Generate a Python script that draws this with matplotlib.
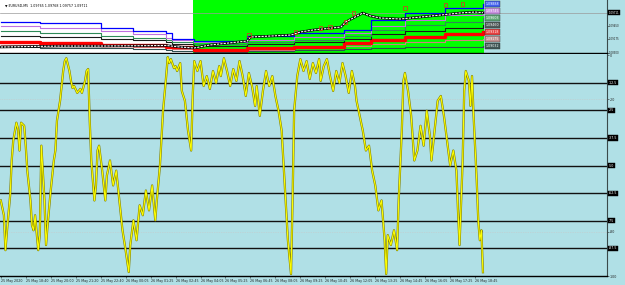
import matplotlib.pyplot as plt

# ---------------- data ----------------
# Williams %R(24) on M5 bars (bar index from left edge of chart)
wpr_bar = [0, 2, 3, 4, 6, 7, 8, 10, 11, 12,
           13, 15, 16, 17, 19, 20, 21, 22, 24, 25,
           26, 28, 29, 30, 32, 34, 35, 36, 38, 39,
           40, 41, 42, 44, 45, 46, 47, 49, 50, 51,
           52, 54, 55, 56, 57, 58, 60, 61, 62, 63,
           65, 67, 68, 70, 72, 74, 76, 78, 80, 82,
           83, 85, 87, 89, 91, 93, 95, 97, 99, 100,
           102, 104, 106, 107, 108, 109, 111, 112, 113, 115,
           116, 118, 120, 122, 123, 124, 126, 128, 130, 132,
           134, 136, 138, 140, 141, 143, 145, 147, 149, 151,
           153, 155, 157, 159, 161, 163, 164, 166, 168, 170,
           172, 174, 176, 178, 180, 182, 184, 186, 187, 188,
           190, 192, 194, 196, 198, 200, 202, 204, 205, 207,
           209, 211, 213, 215, 217, 219, 221, 223, 225, 227,
           228, 230, 232, 234, 236, 238, 240, 242, 244, 246,
           247, 248, 250, 252, 254, 255, 257, 258, 259, 261,
           263, 265, 267, 269, 271, 273, 275, 276, 278, 280,
           282, 284, 286, 288, 290, 292, 293, 294, 296, 297,
           298, 300, 301, 302, 303, 305, 306, 307, 308, 309]
wpr_val = [-65.8, -72.5, -88.3, -79.3, -63.5, -47.7, -38.7, -30.6, -33.3, -43.2,
           -30.6, -32.0, -41.0, -52.3, -65.8, -77.0, -79.3, -72.5, -88.3, -81.5,
           -41.0, -65.8, -86.0, -77.0, -61.3, -47.7, -43.2, -29.7, -20.7, -14.0,
           -7.2, -2.7, -1.4, -7.2, -11.7, -14.9, -14.0, -17.1, -16.2, -15.3,
           -17.1, -11.7, -7.2, -6.3, -29.7, -47.7, -65.8, -59.0, -43.2, -41.0,
           -52.3, -65.8, -54.5, -47.7, -59.0, -52.3, -65.8, -79.3, -88.3, -98.2,
           -86.0, -74.8, -83.8, -68.0, -72.5, -61.3, -70.3, -59.0, -74.8, -65.8,
           -50.0, -25.2, -9.5, -0.9, -3.6, -1.8, -5.9, -5.0, -7.2, -3.6,
           -16.2, -20.7, -34.2, -43.2, -18.5, -2.7, -7.2, -2.7, -14.0, -9.5,
           -15.3, -7.2, -12.6, -5.0, -9.5, -1.4, -7.2, -14.0, -6.3, -11.7,
           -2.7, -9.5, -18.5, -8.1, -14.0, -23.0, -14.0, -27.5, -16.2, -7.2,
           -14.0, -9.5, -18.5, -25.2, -34.2, -59.0, -83.8, -99.1, -65.8, -25.2,
           -9.5, -1.8, -7.2, -2.7, -10.8, -3.6, -8.1, -1.8, -11.7, -5.0,
           -1.8, -9.5, -16.2, -7.2, -12.6, -3.6, -9.5, -17.1, -7.2, -14.0,
           -20.7, -27.5, -34.2, -43.2, -41.0, -52.3, -59.0, -70.3, -65.8, -83.8,
           -99.1, -81.5, -86.0, -79.3, -88.3, -65.8, -34.2, -11.7, -8.1, -16.2,
           -27.5, -47.7, -43.2, -32.0, -41.0, -25.2, -36.5, -47.7, -34.2, -20.7,
           -18.5, -27.5, -38.7, -50.0, -43.2, -52.3, -70.3, -86.0, -47.7, -16.2,
           -7.2, -11.7, -23.0, -9.5, -27.5, -56.8, -74.8, -83.8, -79.3, -98.3]

solid_levels = [-12.5, -25, -37.5, -50, -62.5, -75, -87.5]
dotted_levels = [-20, -80]

date_labels = ["25 May 2020", "25 May 18:40", "25 May 20:00", "25 May 21:20",
               "25 May 22:40", "26 May 00:05", "26 May 01:25", "26 May 02:45",
               "26 May 04:05", "26 May 05:25", "26 May 06:45", "26 May 08:05",
               "26 May 09:25", "26 May 10:45", "26 May 12:05", "26 May 13:25",
               "26 May 14:45", "26 May 16:05", "26 May 17:25", "26 May 18:45"]
date_bars = [16 * i for i in range(len(date_labels))]

# price window: stepped level lines
step_bar = [0, 25, 64, 85, 106, 110, 124, 158, 188, 220, 237, 259, 285, 309]
lvl_blue = [1.09521, 1.09501, 1.09399, 1.09338, 1.09297, 1.09175, 1.09144,
            1.09236, 1.09297, 1.09358, 1.09562, 1.09705, 1.09806, 1.09888]
lvl_plum = [1.09440, 1.09399, 1.09338, 1.09277, 1.09195, 1.09155, 1.09114,
            1.09155, 1.09216, 1.09297, 1.09440, 1.09562, 1.09664, 1.09745]
lvl_green = [1.09348, 1.09297, 1.09246, 1.09195, 1.09155, 1.09114, 1.09073,
             1.09114, 1.09155, 1.09236, 1.09358, 1.09460, 1.09521, 1.09603]
lvl_black = [1.09236, 1.09216, 1.09175, 1.09155, 1.09114, 1.09073, 1.09032,
             1.09073, 1.09114, 1.09175, 1.09277, 1.09338, 1.09399, 1.09460]
lvl_red = [1.09114, 1.09094, 1.09063, 1.09043, 1.09022, 1.09012, 1.08951,
           1.08992, 1.09012, 1.09094, 1.09155, 1.09216, 1.09277, 1.09318]
lvl_rosy = [1.09063, 1.09053, 1.09032, 1.09012, 1.08992, 1.08971, 1.08931,
            1.08961, 1.08992, 1.09032, 1.09073, 1.09114, 1.09155, 1.09175]
lvl_slate = [1.09012, 1.09002, 1.08992, 1.08971, 1.08951, 1.08931, 1.08910,
             1.08931, 1.08951, 1.08971, 1.08992, 1.09012, 1.09022, 1.09032]

close_bar = [0, 38, 64, 106, 115, 124, 134, 158, 160, 186, 192, 200,
             218, 221, 227, 232, 237, 243, 256, 269, 282, 294, 304, 309]
close_px = [1.09012, 1.09032, 1.09032, 1.09043, 1.09012, 1.08992, 1.09053, 1.09134,
            1.09216, 1.09256, 1.09318, 1.09358, 1.09419, 1.09521, 1.09623, 1.09705,
            1.09644, 1.09603, 1.09583, 1.09623, 1.09664, 1.09705, 1.09725, 1.09711]

frac_bar = [159, 189, 205, 211, 221, 226, 259, 285, 296]
frac_px = [1.09256, 1.09318, 1.09399, 1.09419, 1.09521, 1.09705, 1.09806, 1.09868, 1.09888]

bid = 1.09711
price_ticks = [1.08900, 1.09175, 1.09450]
header_main = "\u25BC EURUSD,M5  1.09765 1.09768 1.09757 1.09711"
header_ind = "%R(24) -98.2978 Stoch(24,1,1) 1.9024 1.9024"

# ---------------- figure ----------------
W, H = 625, 285
BG = '#B0E0E6'
FS = 2.3
FS_PRICE = 1.9
fig = plt.figure(figsize=(W / 100, H / 100), dpi=100)
fig.patch.set_facecolor(BG)


def px_axes(x0, y0, x1, y1):
    return fig.add_axes([x0 / W, 1 - y1 / H, (x1 - x0) / W, (y1 - y0) / H])


ax1 = px_axes(0, 0, 607, 53)
ax2 = px_axes(0, 54, 607, 276)
for ax in (ax1, ax2):
    ax.set_facecolor(BG)
    ax.set_xlim(-0.5, 388.5)
    ax.spines['top'].set_visible(False)
    ax.spines['left'].set_visible(False)
    ax.spines['bottom'].set_color('black')
    ax.spines['bottom'].set_linewidth(1.0)
    ax.spines['right'].set_color('#3a4a4a')
    ax.spines['right'].set_linewidth(0.8)
    ax.yaxis.tick_right()
    ax.tick_params(axis='y', labelsize=FS, length=1.2, width=0.4, pad=0.8, colors='#222')
    ax.xaxis.get_offset_text().set_visible(False)
    ax.yaxis.get_offset_text().set_visible(False)

# ---- price window ----
ax1.set_ylim(1.0889, 1.0997)
ax1.axvspan(-0.5, 123.5, color='white', lw=0)
ax1.axvspan(123.5, 309.5, color='#00FF00', lw=0)
ax1.axhline(bid, color='#9a9a9a', lw=0.5)

lines = [(lvl_slate, '#2F4F4F', 0.8), (lvl_rosy, '#D08080', 0.8),
         (lvl_red, '#FF0000', 2.4), (lvl_black, '#1a1a1a', 0.8),
         (lvl_green, '#2E8B57', 0.8), (lvl_plum, '#C070E0', 0.8),
         (lvl_blue, '#0000FF', 0.9)]
for vals, col, lw in lines:
    ax1.plot(step_bar, vals, drawstyle='steps-post', color=col, lw=lw)

ax1.plot(close_bar, close_px, color='black', lw=1.8)
ax1.plot(close_bar, close_px, color='white', lw=0.8, ls=(0, (2, 1)))
ax1.scatter(frac_bar, frac_px, marker='s', s=6, facecolors='none',
            edgecolors='#E03020', linewidths=0.5, zorder=5)

label_cols = ['#4060F0', '#C890E0', '#5FA878', '#505A5A', '#E84040', '#C09090', '#3F5656']
label_vals = [lvl_blue[-1], lvl_plum[-1], lvl_green[-1], lvl_black[-1],
              lvl_red[-1], lvl_rosy[-1], lvl_slate[-1]]
for v, c in zip(label_vals, label_cols):
    ax1.text(311, v, f"{v:.5f}", fontsize=FS, color='white', ha='left', va='center',
             bbox=dict(boxstyle='square,pad=0.25', fc=c, ec='#333333', lw=0.3))

# price scale labels drawn as texts so they stay inside the picture
ax1.set_yticks(price_ticks)
ax1.set_yticklabels([])
ax1.tick_params(axis='y', length=1.2)
for p in price_ticks:
    ax1.text(1.003, p, f"{p:.5f}", transform=ax1.get_yaxis_transform(),
             fontsize=FS_PRICE, color='#222', ha='left', va='center', clip_on=False)
ax1.set_xticks([])
ax1.text(1.003, bid, f"{bid:.5f}", transform=ax1.get_yaxis_transform(), fontsize=FS_PRICE,
         color='white', ha='left', va='center',
         bbox=dict(boxstyle='square,pad=0.2', fc='black', ec='black', lw=0.3))
ax1.text(3, 0.93, header_main, transform=ax1.get_xaxis_transform(),
         fontsize=FS, color='black', ha='left', va='top')

# ---- indicator window ----
ax2.set_ylim(-100, 0.5)
for lv in solid_levels:
    ax2.axhline(lv, color='#111111', lw=1.0)
for lv in dotted_levels:
    ax2.axhline(lv, color='#c8c8c8', lw=0.5, ls=(0, (1, 1.5)))

ax2.plot(wpr_bar, wpr_val, color='#4682B4', lw=0.5, zorder=3)
ax2.plot(wpr_bar, wpr_val, color='#808000', lw=1.6, zorder=4)
ax2.plot(wpr_bar, wpr_val, color='#FFFF00', lw=0.8, zorder=5)

ax2.set_yticks([0] + dotted_levels + [-100])
ax2.set_yticklabels(['0', '-20', '-80', '-100'])
for lv in solid_levels:
    txt = f"{lv:g}"
    ax2.text(1.003, lv, txt, transform=ax2.get_yaxis_transform(), fontsize=FS,
             color='white', ha='left', va='center',
             bbox=dict(boxstyle='square,pad=0.2', fc='black', ec='black', lw=0.3))

ax2.set_xticks(date_bars)
ax2.set_xticklabels(date_labels, ha='left')
ax2.tick_params(axis='x', labelsize=FS, length=1.5, width=0.4, pad=1, colors='#222')
ax2.text(2, 0.985, header_ind, transform=ax2.transAxes, fontsize=FS,
         color='black', ha='left', va='top')

fig.savefig('out.png', dpi=100, facecolor=BG)
